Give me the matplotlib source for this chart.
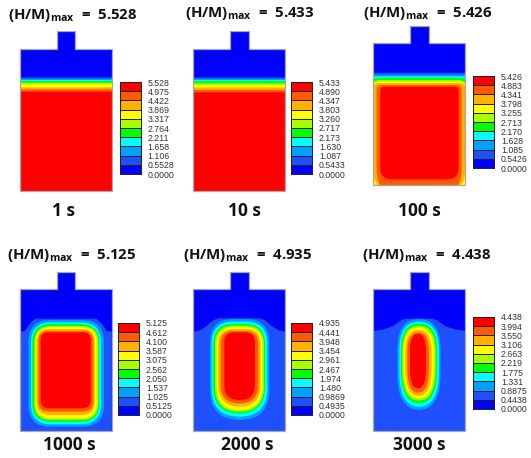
"""Six contour snapshots of (H/M) in a canister, with discrete colour keys."""
import matplotlib
matplotlib.use("Agg")
import matplotlib.pyplot as plt
import numpy as np
from matplotlib.colors import BoundaryNorm, ListedColormap
from matplotlib.patches import PathPatch, Polygon
from matplotlib.path import Path

plt.rcParams["font.family"] = ["Open Sans", "DejaVu Sans"]
plt.rcParams["mathtext.fontset"] = "custom"
plt.rcParams["mathtext.bf"] = "Open Sans:bold"
plt.rcParams["mathtext.rm"] = "Open Sans"

W, H = 531, 458

BAND_COLORS = ["#0000ff", "#1e50ff", "#00a0ff", "#00ffff", "#00ff00",
               "#a8ff00", "#ffff00", "#ffb000", "#ff5a00", "#ff0000"]

TIMES = ["1 s", "10 s", "100 s", "1000 s", "2000 s", "3000 s"]
MAX_VALUES = ["5.528", "5.433", "5.426", "5.125", "4.935", "4.438"]

# colour key labels, top to bottom
KEY_1 = ["5.528", "4.975", "4.422", "3.869", "3.317", "2.764", "2.211", "1.658", "1.106", "0.5528", "0.0000"]
KEY_2 = ["5.433", "4.890", "4.347", "3.803", "3.260", "2.717", "2.173", "1.630", "1.087", "0.5433", "0.0000"]
KEY_3 = ["5.426", "4.883", "4.341", "3.798", "3.255", "2.713", "2.170", "1.628", "1.085", "0.5426", "0.0000"]
KEY_4 = ["5.125", "4.612", "4.100", "3.587", "3.075", "2.562", "2.050", "1.537", "1.025", "0.5125", "0.0000"]
KEY_5 = ["4.935", "4.441", "3.948", "3.454", "2.961", "2.467", "1.974", "1.480", "0.9869", "0.4935", "0.0000"]
KEY_6 = ["4.438", "3.994", "3.550", "3.106", "2.663", "2.219", "1.775", "1.331", "0.8875", "0.4438", "0.0000"]
KEYS = [KEY_1, KEY_2, KEY_3, KEY_4, KEY_5, KEY_6]

# Contour outlines. Body is 275 x 425 units with a neck on top.
# Each list runs from band 1 (or 2) up to the red core.
P1_TOP = [340, 336, 332, 329, 324, 319, 310, 304, 297]
P2_TOP = [340, 336, 332, 329, 322, 317, 310, 302, 295]

P3_LEFT = [-20, -20, -15, -10, -6, -4, -2, 10, 21]
P3_RIGHT = [295, 295, 290, 285, 281, 279, 277, 265, 256]
P3_TOP = [337, 331, 326, 321, 315, 310, 306, 300, 295]
P3_BOTTOM = [-20, -20, -30, -30, -30, -30, -30, -30, 17]
P3_R_TOP = [0, 10, 20, 25, 25, 25, 20, 15, 12]
P3_R_BOT = [0, 0, 0, 0, 0, 0, 85, 75, 35]

P4_FRONT_X = [0, 15, 28, 45, 230, 247, 260, 275]
P4_FRONT_Y = [298, 300, 320, 337, 337, 320, 300, 298]
P4_LEFT = [25, 33, 37, 43, 46, 50, 55, 62]
P4_RIGHT = [252, 243, 238, 235, 230, 224, 220, 212]
P4_TOP = [333, 326, 320, 315, 311, 306, 300, 296]
P4_BOTTOM = [13, 20, 28, 33, 38, 48, 58, 68]
P4_R_TOP = [65, 60, 55, 50, 45, 38, 30, 22]
P4_R_BOT = [65, 60, 55, 50, 45, 38, 30, 25]

P5_FRONT_X = [0, 20, 40, 60, 75, 200, 215, 235, 255, 275]
P5_FRONT_Y = [298, 302, 315, 332, 338, 338, 332, 315, 302, 298]
P5_LEFT = [50, 55, 60, 65, 70, 75, 82, 93]
P5_RIGHT = [228, 222, 215, 212, 207, 202, 195, 185]
P5_TOP = [336, 328, 321, 316, 311, 306, 300, 296]
P5_BOTTOM = [33, 43, 53, 58, 63, 73, 83, 93]
P5_R_TOP = [70, 65, 60, 55, 50, 45, 38, 30]
P5_R_BOT = [90, 85, 80, 75, 70, 65, 55, 45]

P6_FRONT_X = [0, 30, 60, 80, 95, 180, 195, 215, 245, 275]
P6_FRONT_Y = [300, 305, 315, 330, 337, 337, 330, 315, 305, 300]
P6_LEFT = [72, 78, 83, 87, 91, 96, 102, 110]
P6_RIGHT = [202, 197, 191, 187, 182, 175, 167, 158]
P6_TOP = [336, 328, 322, 316, 310, 303, 296, 291]
P6_BOTTOM = [63, 73, 83, 91, 98, 105, 115, 128]
P6_R_TOP = [90, 85, 80, 75, 70, 65, 60, 50]
P6_R_BOT = [110, 105, 100, 95, 90, 85, 75, 60]

# page layout in pixels, measured from the top left corner
BODY_X = [20, 193.3, 373.3, 20, 193.3, 373.3]
BODY_BOTTOM = [190.7, 190.7, 185, 431, 431, 431]
KEY_X = [119.5, 291, 473, 118, 291, 473]
KEY_TOP = [82, 82, 76, 323, 323, 317]
TITLE_X = [8, 185, 363, 7, 183, 362]
TITLE_Y = [19, 17, 17, 259, 259, 259]
TIME_X = [64, 244, 419, 69, 247, 419]
TIME_Y = [216, 216, 216, 450, 450, 450]


def add_axes_px(fig, x, top, w, h):
    return fig.add_axes([x / W, 1 - (top + h) / H, w / W, h / H])


def round_box(left, right, bottom, top, r_top, r_bot):
    """Box with quadratic corners; corner width is capped at half the box width."""
    half_w = (right - left) / 2
    tx, ty = min(r_top, half_w), r_top
    bx, by = min(r_bot, half_w), r_bot
    verts = [(left + bx, bottom), (right - bx, bottom),
             (right, bottom), (right, bottom + by),
             (right, top - ty),
             (right, top), (right - tx, top),
             (left + tx, top),
             (left, top), (left, top - ty),
             (left, bottom + by),
             (left, bottom), (left + bx, bottom)]
    codes = [Path.MOVETO, Path.LINETO, Path.CURVE3, Path.CURVE3, Path.LINETO,
             Path.CURVE3, Path.CURVE3, Path.LINETO, Path.CURVE3, Path.CURVE3,
             Path.LINETO, Path.CURVE3, Path.CURVE3]
    return Path(verts, codes)


def draw_body(fig, i, boxes, front=None):
    ax = add_axes_px(fig, BODY_X[i], BODY_BOTTOM[i] - 478 / 3, 275 / 3, 478 / 3)
    ax.set_xlim(0, 275)
    ax.set_ylim(0, 478)
    ax.axis("off")

    outline = [(0, 0), (275, 0), (275, 425), (166, 425), (166, 478),
               (110, 478), (110, 425), (0, 425)]
    clip = Polygon(outline, closed=True, transform=ax.transData)
    ax.add_patch(Polygon(outline, closed=True, fc=BAND_COLORS[0], ec="none"))

    if front is not None:
        fx, fy = front
        xs = [fx[0]] + list(fx) + [fx[-1]]
        ys = [0] + list(fy) + [0]
        p = Polygon(np.column_stack([xs, ys]), closed=True, fc=BAND_COLORS[1], ec="none")
        ax.add_patch(p)
        p.set_clip_path(clip)

    first = 10 - len(boxes)
    for n, box in enumerate(boxes):
        patch = PathPatch(round_box(*box), fc=BAND_COLORS[first + n], ec="none")
        ax.add_patch(patch)
        patch.set_clip_path(clip)

    ax.add_patch(Polygon(outline, closed=True, fc="none", ec="#a8a8a8", lw=0.9, clip_on=False))


def draw_key(fig, i, labels):
    ax = add_axes_px(fig, KEY_X[i], KEY_TOP[i], 21, 92)
    levels = np.array([float(v) for v in labels[::-1]])
    cmap = ListedColormap(BAND_COLORS)
    norm = BoundaryNorm(levels, cmap.N)
    mids = (levels[:-1] + levels[1:]) / 2
    ax.pcolormesh([0, 1], levels, mids[:, None], cmap=cmap, norm=norm,
                  edgecolors="#222222", linewidth=0.6)
    ax.set_xticks([])
    ax.yaxis.tick_right()
    ax.set_yticks(levels)
    ax.set_yticklabels(labels[::-1], family="Liberation Sans", fontsize=6.3, color="#333333")
    ax.tick_params(axis="y", length=0, pad=5)
    for s in ax.spines.values():
        s.set_color("#222222")
        s.set_linewidth(0.7)


def main():
    fig = plt.figure(figsize=(W / 100, H / 100), dpi=100, facecolor="white")

    wide = (-20, 295, -20)
    draw_body(fig, 0, [(*wide, t, 0, 0) for t in P1_TOP])
    draw_body(fig, 1, [(*wide, t, 0, 0) for t in P2_TOP])
    draw_body(fig, 2, list(zip(P3_LEFT, P3_RIGHT, P3_BOTTOM, P3_TOP, P3_R_TOP, P3_R_BOT)))
    draw_body(fig, 3, list(zip(P4_LEFT, P4_RIGHT, P4_BOTTOM, P4_TOP, P4_R_TOP, P4_R_BOT)),
              (P4_FRONT_X, P4_FRONT_Y))
    draw_body(fig, 4, list(zip(P5_LEFT, P5_RIGHT, P5_BOTTOM, P5_TOP, P5_R_TOP, P5_R_BOT)),
              (P5_FRONT_X, P5_FRONT_Y))
    draw_body(fig, 5, list(zip(P6_LEFT, P6_RIGHT, P6_BOTTOM, P6_TOP, P6_R_TOP, P6_R_BOT)),
              (P6_FRONT_X, P6_FRONT_Y))

    for i in range(6):
        draw_key(fig, i, KEYS[i])
        fig.text(TITLE_X[i] / W, 1 - TITLE_Y[i] / H,
                 r"(H/M)$_{\mathbf{max}}$  =  " + MAX_VALUES[i],
                 fontsize=10.8, fontweight="bold", color="#111111", va="baseline")
        fig.text(TIME_X[i] / W, 1 - TIME_Y[i] / H, TIMES[i], ha="center", va="baseline",
                 fontsize=12.5, fontweight="bold", color="#111111")

    fig.savefig("out.png", dpi=100)


if __name__ == "__main__":
    main()
